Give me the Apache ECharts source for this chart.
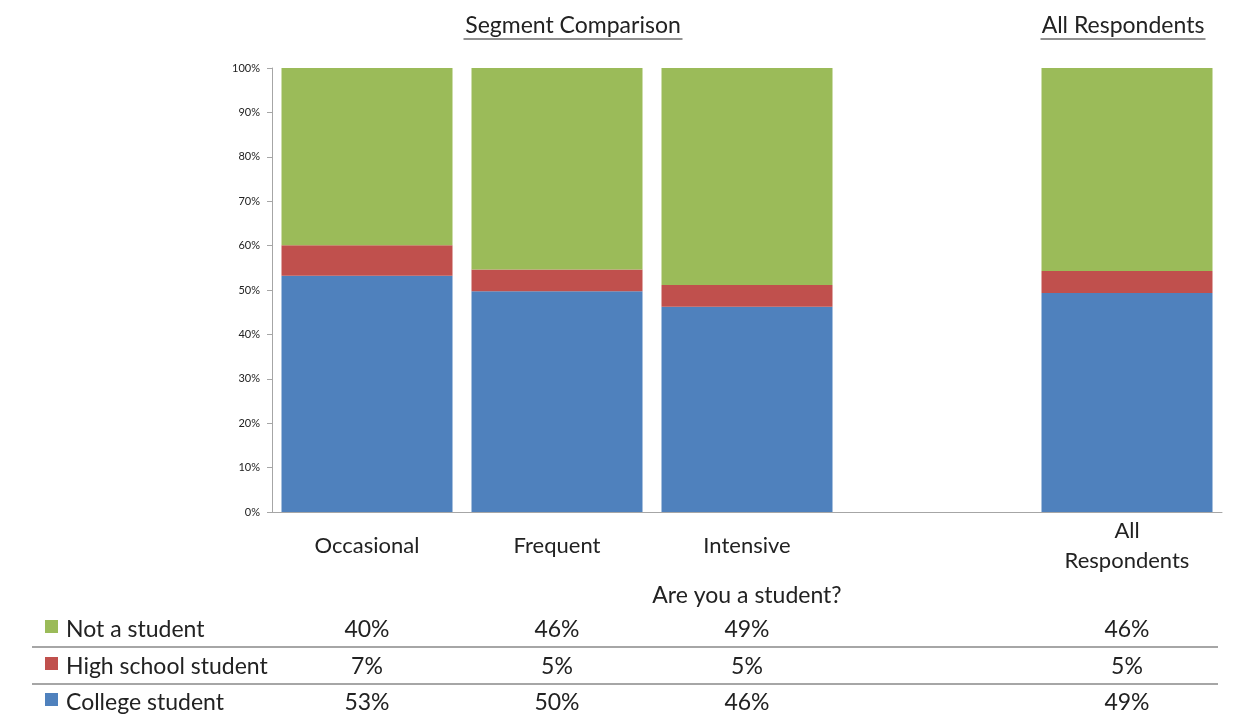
<!DOCTYPE html>
<html>
<head>
<meta charset="utf-8">
<script src="https://cdn.jsdelivr.net/npm/echarts@6/dist/echarts.min.js"></script>
<style>
  html, body { margin: 0; padding: 0; background: #fff; }
  #main { width: 1248px; height: 723px; }
</style>
</head>
<body>
<div id="main"></div>
<script>
// categories (the empty slot is the gap before All Respondents)
var categories = ['Occasional', 'Frequent', 'Intensive', '', 'All\nRespondents']
// bar heights (%)
var collegeVals = [53.2, 49.7, 46.2, '-', 49.3]
var highSchoolVals = [6.9, 4.9, 4.9, '-', 5.0]
var notStudentVals = [39.9, 45.4, 48.9, '-', 45.7]
// table text under the chart
var seriesNames = ['Not a student', 'High school student', 'College student']
var tableNot = ['40%', '46%', '49%', '', '46%']
var tableHigh = ['7%', '5%', '5%', '', '5%']
var tableCollege = ['53%', '50%', '46%', '', '49%']
var yTicks = [0, 10, 20, 30, 40, 50, 60, 70, 80, 90, 100]

var colors = { blue: '#4f81bd', red: '#c0504d', green: '#9bbb59' }
var FONT = 'Lato'
var BIG = '23px ' + FONT

var chart = echarts.init(document.getElementById('main'))

var option = {
  animation: false,
  textStyle: { fontFamily: FONT },
  grid: { left: 272, right: 26, top: 68, bottom: 211 },
  xAxis: {
    type: 'category',
    data: categories,
    axisLine: { lineStyle: { color: '#a6a6a6', width: 1 } },
    axisTick: { show: false },
    axisLabel: { fontSize: 22, color: '#222', margin: 34, lineHeight: 30, verticalAlign: 'middle', fontFamily: FONT }
  },
  yAxis: {
    type: 'value',
    min: 0,
    max: 100,
    interval: 10,
    axisLine: { show: true, lineStyle: { color: '#a6a6a6' } },
    axisTick: { show: true, length: 5, lineStyle: { color: '#a6a6a6' } },
    splitLine: { show: false },
    axisLabel: {
      fontSize: 11, color: '#222', margin: 12, fontFamily: FONT,
      formatter: function (v) { return yTicks.indexOf(v) >= 0 ? v + '%' : '' }
    }
  },
  series: [
    { name: 'College student', type: 'bar', stack: 's', data: collegeVals,
      itemStyle: { color: colors.blue }, barCategoryGap: '10%' },
    { name: 'High school student', type: 'bar', stack: 's', data: highSchoolVals,
      itemStyle: { color: colors.red } },
    { name: 'Not a student', type: 'bar', stack: 's', data: notStudentVals,
      itemStyle: { color: colors.green } }
  ]
}
chart.setOption(option)

// table + titles, placed from the axis' own pixel positions
function colX (i) { return chart.convertToPixel({ xAxisIndex: 0 }, i) }

var g = []
var rows = [
  { name: seriesNames[0], color: colors.green, vals: tableNot, y: 630 },
  { name: seriesNames[1], color: colors.red, vals: tableHigh, y: 667 },
  { name: seriesNames[2], color: colors.blue, vals: tableCollege, y: 703 }
]
rows.forEach(function (r) {
  g.push({ type: 'rect', shape: { x: 45, y: r.y - 10, width: 13, height: 13 }, style: { fill: r.color } })
  g.push({ type: 'text', x: 66, y: r.y, style: { text: r.name, font: BIG, fill: '#222', textVerticalAlign: 'middle' } })
  r.vals.forEach(function (v, i) {
    if (!v) return
    g.push({ type: 'text', x: colX(i), y: r.y, style: { text: v, font: BIG, fill: '#222', textAlign: 'center', textVerticalAlign: 'middle' } })
  })
})
// row separators
;[647, 684].forEach(function (y) {
  g.push({ type: 'line', shape: { x1: 32, y1: y, x2: 1218, y2: y }, style: { stroke: '#a6a6a6', lineWidth: 2 } })
})
g.push({ type: 'text', x: colX(2), y: 596, style: { text: 'Are you a student?', font: BIG, fill: '#222', textAlign: 'center', textVerticalAlign: 'middle' } })

// underlined section titles
function title (text, cx, w) {
  g.push({ type: 'text', x: cx, y: 26, style: { text: text, font: BIG, fill: '#222', textAlign: 'center', textVerticalAlign: 'middle' } })
  g.push({ type: 'line', shape: { x1: cx - w / 2, y1: 39, x2: cx + w / 2, y2: 39 }, style: { stroke: '#222', lineWidth: 1 } })
}
title('Segment Comparison', 573, 219)
title('All Respondents', 1123, 165)

chart.setOption({ graphic: g })
</script>
</body>
</html>
